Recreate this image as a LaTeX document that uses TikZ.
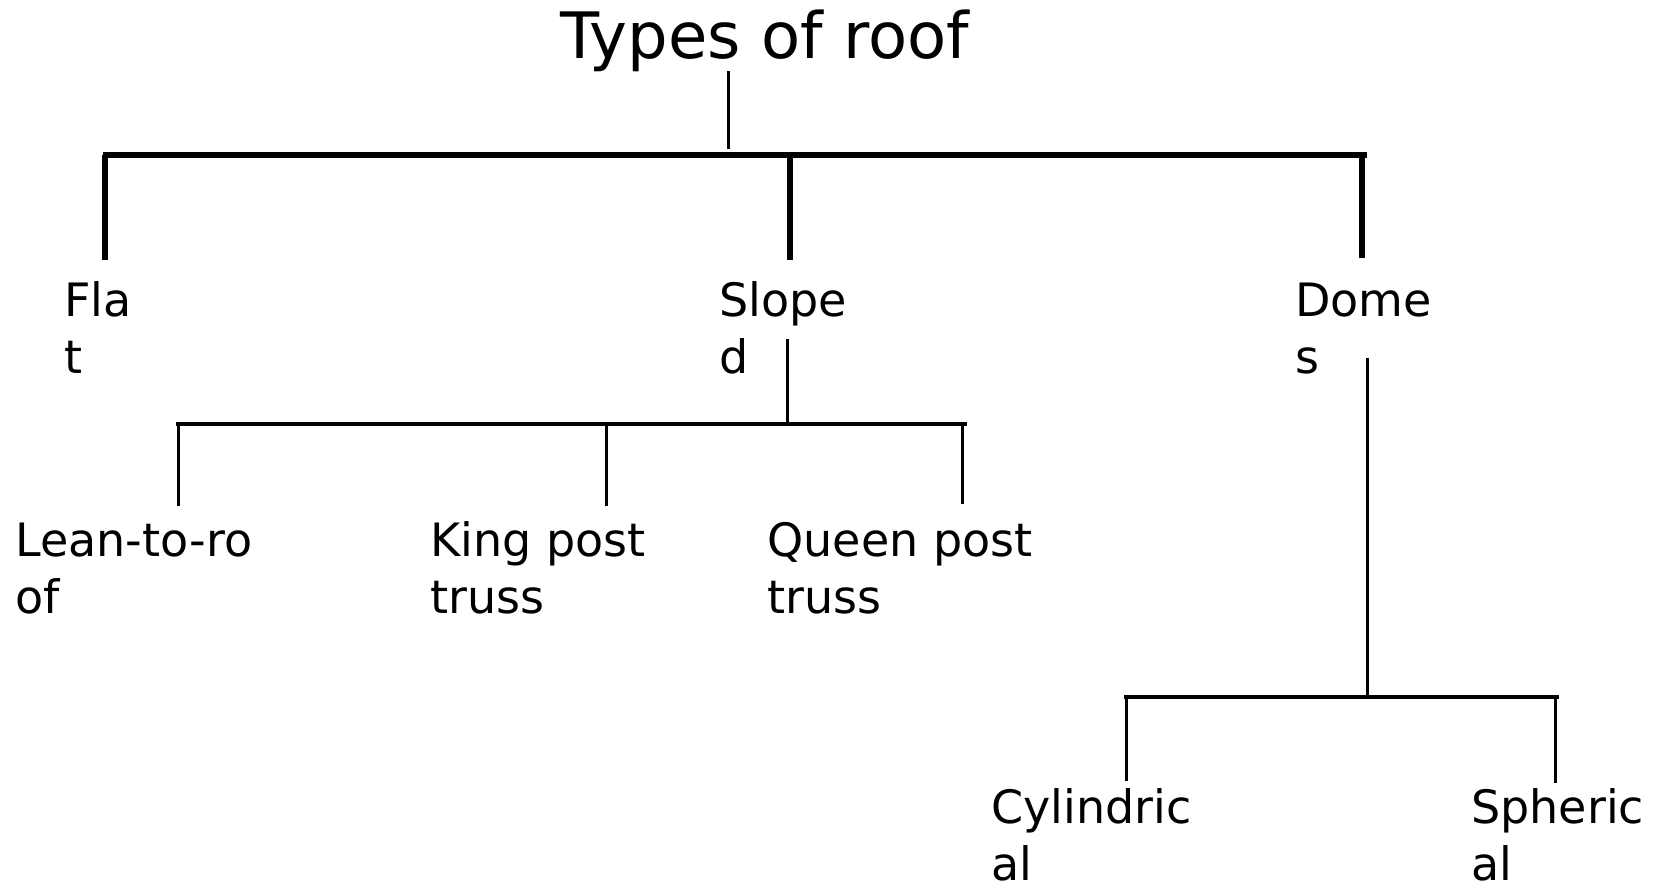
\documentclass[tikz,border=0pt]{standalone}
\usepackage{fontspec}
\setmainfont{DejaVu Sans}
\begin{document}
\begin{tikzpicture}[x=0.5pt, y=-0.5pt,
        lbl/.style={anchor=base west, align=left, inner sep=0pt, font=\fontsize{23}{28.5}\selectfont},
        trunk/.style={line width=1.5pt},
        mainbar/.style={line width=3.2pt},
        mainleg/.style={line width=2.7pt},
        subbar/.style={line width=2pt},
        subleg/.style={line width=1.5pt}]
        \useasboundingbox (0,0) rectangle (1662,891);

        % --- Title and first level ---
        \node[anchor=base, inner sep=0pt, font=\fontsize{32}{38}\selectfont] (title) at (765,58) {Types of roof};
        \coordinate (rootTop) at (728,71);
        \coordinate (rootBar) at (728,155);
        \coordinate (barL) at (103,155);
        \coordinate (barR) at (1367,155);
        \draw[trunk] (rootTop) -- ([yshift=3pt]rootBar);
        \draw[mainbar] (barL) -- (barR);

        % base of a two-line label = baseline of its last line
        \node[lbl] (flat) at (64,373) {Fla\\t};
        \node[lbl] (sloped) at (719,373) {Slope\\d};
        \node[lbl] (domes) at (1295,373) {Dome\\s};
        \coordinate (flatEnd) at (105,260);
        \coordinate (slopedEnd) at (790,260);
        \coordinate (domesEnd) at (1362,258);
        \draw[mainleg] (barL -| flatEnd) -- (flatEnd);
        \draw[mainleg] (barL -| slopedEnd) -- (slopedEnd);
        \draw[mainleg] (barL -| domesEnd) -- (domesEnd);
        % ---

        % --- Sloped branch ---
        \coordinate (slopeTop) at (787,339);
        \coordinate (slopeBarL) at (176,424);
        \coordinate (slopeBarR) at (967,424);
        \draw[trunk] (slopeTop) -- (slopeTop |- slopeBarL);
        \draw[subbar] (slopeBarL) -- (slopeBarR);

        \node[lbl] (lean) at (15,613) {Lean-to-ro\\of};
        \node[lbl] (king) at (430,613) {King post\\truss};
        \node[lbl] (queen) at (767,613) {Queen post\\truss};
        \coordinate (leanEnd) at (178,506);
        \coordinate (kingEnd) at (606,506);
        \coordinate (queenEnd) at (962,504);
        \draw[subleg] (slopeBarL -| leanEnd) -- (leanEnd);
        \draw[subleg] (slopeBarL -| kingEnd) -- (kingEnd);
        \draw[subleg] (slopeBarL -| queenEnd) -- (queenEnd);
        % ---

        % --- Domes branch ---
        \coordinate (domeTop) at (1367,358);
        \coordinate (domeBarL) at (1124,697);
        \coordinate (domeBarR) at (1559,697);
        \draw[trunk] (domeTop) -- (domeTop |- domeBarL);
        \draw[subbar] (domeBarL) -- (domeBarR);

        \node[lbl] (cyl) at (991,880) {Cylindric\\al};
        \node[lbl] (sph) at (1471,880) {Spheric\\al};
        \coordinate (cylEnd) at (1126,781);
        \coordinate (sphEnd) at (1555,783);
        \draw[subleg] (domeBarL -| cylEnd) -- (cylEnd);
        \draw[subleg] (domeBarL -| sphEnd) -- (sphEnd);
        % ---
\end{tikzpicture}
\end{document}
